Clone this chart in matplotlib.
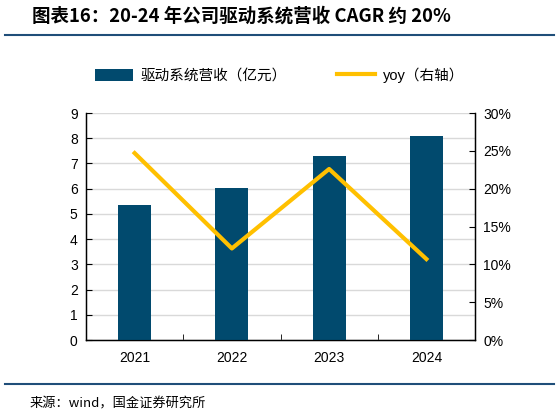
import numpy as np
import matplotlib.pyplot as plt
from matplotlib.lines import Line2D
from matplotlib.patches import Patch

plt.rcParams['font.family'] = ['Liberation Sans', 'Noto Sans CJK SC', 'DejaVu Sans']

years = ['2021', '2022', '2023', '2024']
revenue = [5.36, 6.02, 7.31, 8.08]      # 亿元
yoy = [24.7, 12.1, 22.6, 10.7]          # %

bar_color = '#014A6E'
line_color = '#FFC000'
rule_color = '#1F4E79'

fig = plt.figure(figsize=(5.59, 4.17), dpi=100)
ax = fig.add_axes([86 / 559, 1 - 340 / 417, 389 / 559, 227 / 417])

x = np.arange(len(years))
ax.bar(x, revenue, width=0.34, color=bar_color, zorder=3)
ax.set_xlim(-0.5, len(years) - 0.5)
ax.set_ylim(0, 9)
ax.set_yticks(range(0, 10))
ax.grid(axis='y', color='#d9d9d9', linewidth=1, zorder=0)
ax.set_xticks(x)
ax.set_xticklabels(years, fontsize=10)
ax.set_xticks(np.arange(0.5, len(years) - 0.5, 1), minor=True)
ax.tick_params(axis='x', which='major', length=0, pad=8)
ax.tick_params(axis='x', which='minor', direction='in', length=4)
ax.tick_params(axis='y', direction='in', length=4, labelsize=10, pad=6)
for s in ax.spines.values():
    s.set_linewidth(1)
    s.set_color('black')
ax.spines['top'].set_visible(False)

ax2 = ax.twinx()
ax2.plot(x, yoy, color=line_color, linewidth=3, zorder=4)
ax2.set_ylim(0, 30)
ax2.set_yticks(range(0, 35, 5))
ax2.set_yticklabels([f'{v}%' for v in range(0, 35, 5)])
ax2.tick_params(axis='y', direction='in', length=4, labelsize=10, pad=6)
ax2.spines['top'].set_visible(False)

# title and rules
fig.text(32 / 559, 1 - 16 / 417, '图表16：20-24 年公司驱动系统营收 CAGR 约 20%',
         fontsize=13.3, fontweight='bold', style='italic',
         family=['Noto Sans CJK SC', 'DejaVu Sans'], va='center', ha='left')
fig.add_artist(Line2D([5 / 559, 554 / 559], [1 - 35 / 417] * 2, color=rule_color, lw=1.5))
fig.add_artist(Line2D([5 / 559, 554 / 559], [1 - 384 / 417] * 2, color=rule_color, lw=1.5))
fig.text(30 / 559, 1 - 404 / 417, '来源：wind，国金证券研究所', fontsize=9.5,
         family=['Noto Sans CJK SC', 'DejaVu Sans'], va='center', ha='left')

# legend
handles = [Patch(facecolor=bar_color), Line2D([0], [0], color=line_color, lw=3)]
labels = ['驱动系统营收（亿元）', 'yoy（右轴）']
fig.legend(handles, labels, loc='center', bbox_to_anchor=(0.5, 1 - 75 / 417),
           ncol=2, frameon=False, handlelength=2.6, handleheight=0.9,
           columnspacing=3.5, handletextpad=0.5,
           prop={'family': ['Liberation Sans', 'Noto Sans CJK SC'], 'size': 10.5})

fig.savefig('out.png', dpi=100)
